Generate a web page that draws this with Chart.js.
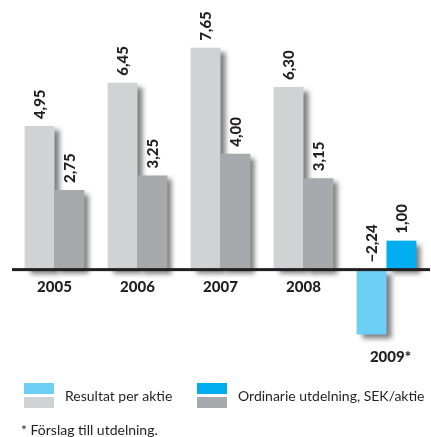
<!DOCTYPE html>
<html>
<head>
<meta charset="utf-8">
<script src="https://cdn.jsdelivr.net/npm/chart.js@4"></script>
<style>
    body { margin: 0; background: #fff; }
    canvas { display: block; }
</style>
</head>
<body>
<canvas id="aktieChart" width="431" height="437"></canvas>
<script>
const years = ['2005', '2006', '2007', '2008', '2009*'];
const resultat = [4.95, 6.45, 7.65, 6.30, -2.24];
const utdelning = [2.75, 3.25, 4.00, 3.15, 1.00];

const legendLabels = ['Resultat per aktie', 'Ordinarie utdelning, SEK/aktie'];
const footnote = '* Förslag till utdelning.';

const TEXT = '#231f20';
const FONT = 'Lato, "Open Sans", sans-serif';

// light/dark grey for the earlier years, blue for the proposal year
const resultatColors = ['#d1d2d4', '#d1d2d4', '#d1d2d4', '#d1d2d4', '#6dcff6'];
const utdelningColors = ['#a7a9ac', '#a7a9ac', '#a7a9ac', '#a7a9ac', '#00aeef'];

function fmt(v) {
    let s = Math.abs(v).toFixed(2).replace('.', ',');
    return v < 0 ? '\u2212' + s : s;
}

// draw datasets first-to-last so the right bar of a pair covers the left one's shadow
const drawInOrder = {
    id: 'drawInOrder',
    beforeDatasetsDraw(chart) {
        chart.getSortedVisibleDatasetMetas().forEach(meta => chart._drawDataset(meta));
        return false;
    }
};

// soft drop shadow to the lower right of each bar
const barShadow = {
    id: 'barShadow',
    beforeDatasetDraw(chart) {
        const ctx = chart.ctx;
        ctx.save();
        ctx.shadowColor = 'rgba(40, 40, 40, 0.6)';
        ctx.shadowBlur = 5;
        ctx.shadowOffsetX = 5;
        ctx.shadowOffsetY = 4;
    },
    afterDatasetDraw(chart) {
        chart.ctx.restore();
    }
};

const decorations = {
    id: 'decorations',
    afterDraw(chart) {
        const ctx = chart.ctx;
        const area = chart.chartArea;
        const zero = chart.scales.y.getPixelForValue(0);

        // base line
        ctx.save();
        ctx.fillStyle = TEXT;
        ctx.fillRect(area.left - 1, zero - 1.5, area.right - area.left + 3, 3);

        // rotated value labels
        ctx.font = '900 15px ' + FONT;
        ctx.fillStyle = TEXT;
        ctx.textBaseline = 'middle';
        ctx.textAlign = 'left';
        chart.data.datasets.forEach((ds, di) => {
            const meta = chart.getDatasetMeta(di);
            meta.data.forEach((bar, i) => {
                const v = ds.data[i];
                const top = v >= 0 ? bar.y : zero;
                ctx.save();
                ctx.translate(bar.x + 1, top - 7);
                ctx.rotate(-Math.PI / 2);
                ctx.fillText(fmt(v), 0, 0);
                ctx.restore();
            });
        });

        // year labels, the negative year goes under its bar
        ctx.textAlign = 'center';
        ctx.font = '900 15px ' + FONT;
        const x = chart.scales.x;
        const resMeta = chart.getDatasetMeta(0);
        years.forEach((yr, i) => {
            const cx = x.getPixelForValue(i);
            if (resultat[i] < 0) {
                const bottom = resMeta.data[i].y;
                ctx.fillText(yr, cx + 4, bottom + 23);
            } else {
                ctx.fillText(yr, cx, zero + 18);
            }
        });

        // legend with stacked two-colour swatches
        const swatches = [
            [resultatColors[4], resultatColors[0]],
            [utdelningColors[4], utdelningColors[0]]
        ];
        const legendX = [24, 197];
        ctx.font = '14px ' + FONT;
        ctx.textAlign = 'left';
        legendLabels.forEach((label, i) => {
            const lx = legendX[i];
            ctx.fillStyle = swatches[i][0];
            ctx.fillRect(lx, 383, 30, 11);
            ctx.fillStyle = swatches[i][1];
            ctx.fillRect(lx, 397, 30, 11);
            ctx.fillStyle = TEXT;
            ctx.fillText(label, lx + 41, 396);
        });

        ctx.fillText(footnote, 21, 430);
        ctx.restore();
    }
};

new Chart(document.querySelector('#aktieChart'), {
    type: 'bar',
    data: {
        labels: years,
        datasets: [
            {
                label: legendLabels[0],
                data: resultat,
                backgroundColor: resultatColors
            },
            {
                label: legendLabels[1],
                data: utdelning,
                backgroundColor: utdelningColors
            }
        ]
    },
    options: {
        responsive: false,
        animation: false,
        layout: {
            padding: { left: 13, right: 3, top: 0, bottom: 92 }
        },
        datasets: {
            bar: {
                categoryPercentage: 0.72,
                barPercentage: 1.0,
                borderWidth: 0
            }
        },
        plugins: {
            legend: { display: false },
            tooltip: { enabled: false }
        },
        scales: {
            x: { display: false },
            y: { display: false, min: -2.6, max: 9.3 }
        }
    },
    plugins: [drawInOrder, barShadow, decorations]
});
</script>
</body>
</html>
